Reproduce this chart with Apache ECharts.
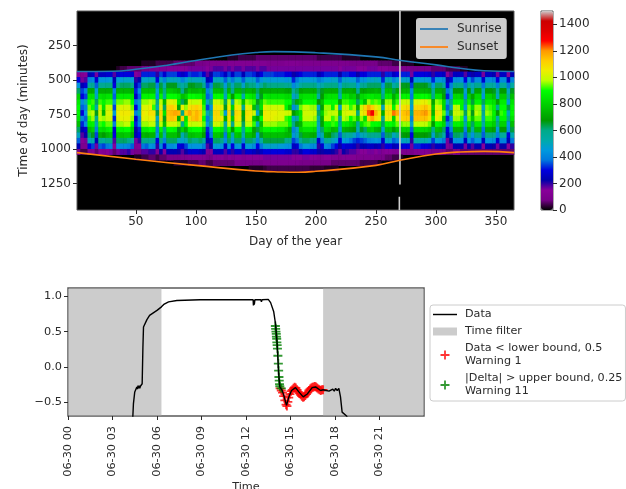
<!DOCTYPE html>
<html><head><meta charset="utf-8">
<style>html,body{margin:0;padding:0;background:#fff;overflow:hidden}#c{width:626px;height:489px}</style>
<script src="https://cdn.jsdelivr.net/npm/echarts@6/dist/echarts.min.js"></script>
</head><body><div id="c"></div>
<script>
// Heatmap: first day of each 3-day bin, first minute of each 40-min bin
const dayBins = [1,4,7,10,13,16,19,22,25,28,31,34,37,40,43,46,49,52,55,58,61,64,67,70,73,76,79,82,85,88,91,94,97,100,103,106,109,112,115,118,121,124,127,130,133,136,139,142,145,148,151,154,157,160,163,166,169,172,175,178,181,184,187,190,193,196,199,202,205,208,211,214,217,220,223,226,229,232,235,238,241,244,247,250,253,256,259,262,265,268,271,274,277,280,283,286,289,292,295,298,301,304,307,310,313,316,319,322,325,328,331,334,337,340,343,346,349,352,355,358,361,364];
const timeBins = [0,40,80,120,160,200,240,280,320,360,400,440,480,520,560,600,640,680,720,760,800,840,880,920,960,1000,1040,1080,1120,1160,1200,1240,1280,1320,1360,1400];
const firstTimeBin = 320;
// one line per day bin, from 320 min down to 1160 min, values in tens
const powerTens = [
[0,0,0,14,30,44,62,80,86,90,88,84,76,62,50,36,24,8,0,0,0],
[0,0,0,12,16,24,34,30,42,36,30,40,32,24,18,14,10,4,0,0,0],
[0,0,0,14,18,28,40,34,52,40,44,36,42,28,22,16,10,4,0,0,0],
[0,0,0,24,40,56,72,84,90,94,96,92,86,76,62,50,30,10,0,0,0],
[0,0,0,26,42,58,72,84,92,90,98,96,88,80,66,52,34,12,0,0,0],
[0,0,0,16,28,36,46,50,62,54,66,58,52,40,34,24,16,6,0,0,0],
[0,0,0,26,44,58,72,84,92,98,100,98,92,84,72,58,36,14,0,0,0],
[0,0,0,26,44,58,72,82,88,84,74,96,90,82,68,56,34,12,0,0,0],
[0,0,0,28,44,60,72,84,92,98,102,100,94,86,74,60,38,14,0,0,0],
[0,0,0,28,46,60,72,84,92,98,102,100,94,88,76,60,40,16,0,0,0],
[0,0,0,18,24,30,40,36,48,34,46,32,40,28,30,18,14,6,0,0,0],
[0,0,2,28,46,60,72,84,94,100,104,102,96,88,76,62,42,16,0,0,0],
[0,0,4,30,46,62,74,86,94,102,106,104,96,88,76,62,42,18,0,0,0],
[0,0,4,30,48,62,74,86,96,102,106,104,98,90,78,62,42,18,0,0,0],
[0,0,6,30,48,62,74,86,96,102,106,104,98,90,78,60,40,20,0,0,0],
[0,0,6,28,46,60,72,84,90,94,100,96,90,80,72,54,36,16,0,0,0],
[0,0,6,14,20,26,32,26,38,30,40,28,32,22,24,16,12,8,2,0,0],
[0,0,6,16,24,34,42,36,48,44,52,40,42,32,30,20,14,8,2,0,0],
[0,2,8,32,48,62,76,88,96,102,106,104,96,86,74,60,38,18,4,0,0],
[0,2,8,32,48,62,76,88,96,102,104,102,96,86,72,60,36,18,4,0,0],
[0,2,10,32,50,64,76,88,98,104,108,104,98,90,74,58,44,20,6,0,0],
[0,2,10,32,50,64,76,88,96,92,108,104,98,88,74,58,42,20,6,0,0],
[0,4,12,20,30,40,48,42,60,52,64,50,56,40,44,30,20,12,4,0,0],
[0,4,12,34,50,64,76,88,98,104,110,108,98,88,76,60,42,22,6,0,0],
[0,4,12,28,40,52,60,56,74,62,84,66,76,58,52,40,28,14,6,0,0],
[0,4,14,34,50,66,78,90,102,110,114,112,100,90,76,62,42,24,8,0,0],
[0,4,14,34,50,66,78,90,102,112,116,114,100,90,76,62,42,24,8,0,0],
[0,6,14,34,50,66,76,90,100,108,118,112,100,88,76,62,44,24,8,2,0],
[0,6,14,30,48,60,74,86,84,70,116,72,96,66,70,50,30,22,8,2,0],
[0,6,14,26,40,54,58,76,62,104,60,112,58,80,52,48,28,18,10,2,0],
[0,6,14,30,46,60,66,80,72,96,112,84,90,72,62,50,34,22,10,2,0],
[0,6,16,34,52,66,76,90,100,108,118,110,100,88,76,62,44,28,12,4,0],
[0,6,16,32,50,66,74,90,98,110,112,114,98,90,76,60,44,28,12,4,0],
[0,8,16,32,50,64,74,88,98,112,116,116,98,90,78,60,44,28,12,4,0],
[0,8,16,34,50,64,76,88,100,108,112,110,100,90,78,62,44,26,12,6,0],
[0,8,16,28,46,58,72,82,84,92,94,90,94,78,70,56,38,24,12,6,0],
[0,10,14,18,24,34,40,36,48,34,50,38,44,32,30,24,18,12,8,4,0],
[0,10,16,22,30,40,50,42,60,44,58,50,60,42,38,30,22,14,8,4,0],
[0,10,18,34,50,64,76,90,100,106,110,108,100,90,78,62,46,26,14,6,0],
[0,10,18,34,50,64,76,90,100,106,110,108,100,90,78,62,46,26,14,6,0],
[0,10,18,32,48,62,74,88,96,104,96,106,96,86,74,60,44,26,14,6,0],
[0,10,16,26,36,46,56,50,62,66,46,72,54,60,38,42,26,18,10,6,0],
[2,12,18,34,48,62,74,88,98,106,110,108,100,90,78,62,44,28,14,6,0],
[2,12,16,26,38,50,58,68,54,80,62,78,58,68,52,46,30,20,12,6,0],
[2,12,18,34,48,62,74,88,98,106,110,108,100,90,78,62,44,28,14,8,0],
[4,12,18,34,48,62,74,88,96,104,108,106,98,90,76,62,46,28,14,8,0],
[4,12,16,24,36,48,64,52,76,58,70,66,62,56,52,40,28,20,12,8,0],
[4,12,18,34,48,62,74,88,96,104,108,106,98,90,76,62,46,28,14,8,0],
[4,12,18,34,48,60,74,86,94,102,106,104,98,88,76,62,46,28,14,8,2],
[4,12,18,32,48,60,72,84,92,76,100,78,92,70,72,58,42,26,14,8,2],
[6,12,16,24,36,48,62,54,66,62,48,70,50,64,44,40,30,22,14,8,2],
[6,12,18,30,44,56,70,66,82,84,72,90,76,82,66,54,38,26,14,8,2],
[6,12,18,34,48,62,72,86,94,102,106,104,96,88,76,64,48,30,16,10,3],
[6,10,16,34,46,60,72,84,92,100,104,104,96,88,76,64,48,30,16,10,4],
[6,10,16,34,46,60,72,84,92,100,104,104,96,88,76,64,48,30,16,10,4],
[6,10,16,32,46,60,72,84,92,100,104,102,96,88,76,64,48,30,16,10,4],
[6,10,16,32,46,60,72,84,92,100,102,102,94,86,76,64,46,30,16,10,4],
[6,10,16,32,46,60,72,84,92,100,102,102,94,86,76,64,46,30,16,10,4],
[6,12,16,30,44,58,70,82,90,88,100,92,94,80,74,60,44,28,16,10,4],
[6,12,16,30,46,58,70,82,90,76,100,90,90,72,74,60,44,28,16,10,4],
[6,12,16,22,32,42,56,48,62,42,68,48,60,40,44,34,26,20,14,10,4],
[6,12,16,26,38,48,62,54,72,52,76,56,66,48,50,38,28,20,14,10,4],
[6,10,16,30,46,56,70,82,78,94,84,86,74,80,64,58,38,24,14,8,4],
[6,10,16,32,46,60,72,84,90,98,100,98,92,84,74,62,46,30,16,8,4],
[6,10,16,32,46,60,72,84,90,98,100,98,92,84,74,62,46,30,16,8,4],
[6,10,16,32,46,60,72,84,90,96,100,98,92,84,72,60,42,28,14,8,3],
[6,10,16,32,46,60,72,84,90,96,100,96,92,82,72,60,42,28,14,8,3],
[4,10,16,24,38,50,62,54,68,48,62,54,50,46,44,28,20,22,12,8,3],
[4,10,16,28,42,54,66,68,76,70,80,72,70,62,52,40,28,22,12,8,3],
[4,10,16,32,46,60,72,82,90,96,96,98,88,82,70,58,42,24,14,8,2],
[4,10,16,32,46,60,72,84,90,96,98,98,88,80,68,56,40,24,14,8,2],
[4,10,16,32,48,60,72,84,90,88,98,92,92,74,62,50,34,22,12,6,2],
[4,10,16,32,48,60,72,84,90,98,100,96,90,76,60,46,30,20,12,6,2],
[4,10,14,22,36,46,58,52,70,48,78,56,58,46,36,30,22,16,10,6,0],
[2,10,16,32,48,60,72,84,92,98,100,98,88,74,58,46,30,22,12,6,0],
[2,10,16,32,48,60,72,84,92,98,102,96,86,72,54,44,28,20,12,6,0],
[2,8,16,30,46,58,72,78,90,92,102,90,82,70,56,38,28,18,12,6,0],
[2,8,16,30,46,58,70,80,88,96,100,94,78,68,50,34,26,18,12,6,0],
[2,8,14,22,36,46,58,66,62,72,60,80,56,52,40,32,20,16,10,6,0],
[0,8,14,30,44,58,70,82,88,100,104,96,84,66,50,34,24,14,10,4,0],
[0,8,14,30,44,58,70,84,76,110,108,84,92,62,52,36,24,14,10,4,0],
[0,8,16,32,48,62,72,86,96,118,124,112,94,78,60,40,26,16,10,4,0],
[0,8,16,32,48,62,72,86,92,112,130,118,90,80,58,42,26,16,10,4,0],
[0,8,16,32,50,62,74,84,94,104,116,108,90,74,58,44,24,14,8,4,0],
[0,6,14,32,48,62,72,84,92,100,106,104,88,72,60,42,26,16,8,2,0],
[0,6,14,20,32,44,52,60,66,50,72,58,62,48,36,28,20,12,8,0,0],
[0,6,14,32,50,64,76,86,96,104,108,104,90,76,62,48,30,14,6,0,0],
[0,6,12,32,50,64,76,86,96,104,108,104,90,76,62,48,30,14,6,0,0],
[0,4,12,26,40,54,64,72,78,88,122,80,86,68,50,36,24,12,4,0,0],
[0,4,12,30,46,60,70,82,92,102,116,104,94,76,58,40,26,12,4,0,0],
[0,2,10,32,48,66,72,86,98,106,112,110,94,78,66,48,28,10,2,0,0],
[0,2,10,32,48,66,74,88,100,108,114,112,96,80,68,50,30,10,0,0,0],
[0,2,10,32,48,66,74,88,100,110,116,112,96,80,68,50,30,10,0,0,0],
[0,2,8,16,24,34,42,38,52,46,58,40,48,36,30,20,16,8,0,0,0],
[0,0,8,30,46,66,74,88,102,110,116,114,98,82,68,52,32,12,0,0,0],
[0,0,8,30,46,66,74,88,102,110,116,114,98,82,68,52,32,12,0,0,0],
[0,0,8,30,46,66,74,90,104,112,118,114,98,82,68,52,30,12,0,0,0],
[0,0,8,30,46,66,74,90,104,114,120,114,98,82,68,52,30,12,0,0,0],
[0,0,8,28,44,62,72,86,98,108,112,108,94,78,66,48,28,10,0,0,0],
[0,0,6,20,32,46,56,60,70,78,74,84,68,60,48,34,20,8,0,0,0],
[0,0,6,28,44,62,72,84,96,102,108,104,90,76,64,46,26,8,0,0,0],
[0,0,6,28,44,62,72,84,94,100,104,100,88,74,62,44,26,8,0,0,0],
[0,0,6,26,42,56,66,70,82,82,94,78,82,62,54,38,24,8,0,0,0],
[0,0,4,14,22,30,38,32,46,36,46,32,40,30,26,16,12,6,0,0,0],
[0,0,4,18,30,40,48,44,60,50,64,44,54,40,34,22,16,6,0,0,0],
[0,0,4,26,42,58,68,82,90,98,100,96,88,74,62,44,24,8,0,0,0],
[0,0,4,26,42,58,68,82,90,98,100,96,88,74,62,44,24,8,0,0,0],
[0,0,2,26,44,58,68,78,88,88,96,92,84,72,60,44,24,6,0,0,0],
[0,0,2,18,30,38,48,42,60,46,62,44,54,40,36,26,16,6,0,0,0],
[0,0,0,26,44,58,68,80,88,94,96,94,84,72,60,44,24,6,0,0,0],
[0,0,0,22,34,50,54,70,64,82,66,78,62,56,44,36,18,6,0,0,0],
[0,0,0,26,42,58,70,82,88,96,98,94,86,74,60,44,24,6,0,0,0],
[0,0,0,26,42,58,70,82,88,96,96,94,86,74,60,44,24,6,0,0,0],
[0,0,0,16,28,38,50,44,62,48,58,50,54,38,36,26,14,6,0,0,0],
[0,0,0,26,42,56,68,80,86,94,96,92,84,72,60,44,24,6,0,0,0],
[0,0,0,26,42,56,68,80,86,92,94,92,84,72,60,44,24,6,0,0,0],
[0,0,0,24,40,54,66,76,84,88,88,86,80,70,58,42,22,6,0,0,0],
[0,0,0,16,30,40,56,50,70,58,68,54,60,46,40,28,16,6,0,0,0],
[0,0,0,26,42,56,68,78,86,90,92,88,80,68,56,40,22,6,0,0,0],
[0,0,0,26,42,56,68,78,86,90,90,88,80,68,56,40,22,6,0,0,0],
[0,0,0,14,26,38,50,58,46,64,50,60,44,42,30,24,14,6,0,0,0],
[0,0,0,24,40,54,66,76,84,88,88,84,76,64,52,38,20,6,0,0,0]
];
const sunriseDays = [1,31,50,75,100,130,150,165,200,250,271,300,320,340,365];
const sunriseMins = [438,436,422,394,358,318,300,294,302,332,358,390,414,432,438];
const sunsetDays = [1,50,100,150,165,185,200,250,271,300,320,340,365];
const sunsetMins = [1025,1073,1117,1158,1163,1167,1160,1117,1078,1035,1020,1016,1025];
const glitchLine = [[270,0],[270,1255],[null,null],[269.5,1345],[269.5,1440]];
const dayTicks = [50,100,150,200,250,300,350];
const minuteTicks = [250,500,750,1000,1250];
const powerTicks = [0,200,400,600,800,1000,1200,1400];
const spectral = ['#000000','#770088','#880099','#0000aa','#0000dd','#0077dd','#0099dd','#00aaaa','#00aa88','#009900','#00bb00','#00dd00','#00ff00','#bbff00','#eeee00','#ffcc00','#ff9900','#ff0000','#dd0000','#cc0000','#cccccc'];

// Lower panel
const hourTicks = [0,3,6,9,12,15,18,21];
const valueTicks = [-0.5,0,0.5,1];
const filterBands = [[0.04,6.3],[17.2,23.96]];
const filterSpan = [-0.68,1.106];
const dataLine = [[4.33,-0.8],[4.37,-0.7],[4.41,-0.52],[4.5,-0.35],[4.64,-0.28],[4.68,-0.31],[4.72,-0.26],[4.76,-0.3],[4.8,-0.26],[4.84,-0.3],[4.88,-0.27],[5.0,-0.235],[5.05,0.28],[5.09,0.565],[5.32,0.67],[5.5,0.73],[6.0,0.8],[6.3,0.85],[6.49,0.89],[6.78,0.92],[7.34,0.94],[8.9,0.95],[12.48,0.95],[12.5,0.87],[12.53,0.95],[12.56,0.88],[12.6,0.95],[13.0,0.95],[13.04,0.92],[13.08,0.95],[13.5,0.955],[13.58,0.93],[13.66,0.91],[13.7,0.93],[13.76,0.89],[13.87,0.78],[13.99,0.61],[14.1,0.33],[14.2,-0.09],[14.28,-0.28],[14.44,-0.33],[14.55,-0.4],[14.73,-0.54],[14.89,-0.42],[15.07,-0.33],[15.34,-0.29],[15.56,-0.35],[15.86,-0.42],[16.13,-0.38],[16.46,-0.29],[16.69,-0.28],[17.03,-0.33],[17.2,-0.32],[17.4,-0.33],[17.47,-0.31],[17.6,-0.34],[17.7,-0.33],[17.85,-0.31],[17.95,-0.34],[18.04,-0.3],[18.15,-0.33],[18.26,-0.3],[18.37,-0.42],[18.48,-0.635],[18.6,-0.66],[18.78,-0.69],[19.0,-0.8]];
const lowBoundHits = [[14.3,-0.3],[14.38,-0.33],[14.46,-0.36],[14.54,-0.41],[14.62,-0.47],[14.7,-0.53],[14.76,-0.55],[14.82,-0.49],[14.88,-0.43],[14.96,-0.38],[15.04,-0.34],[15.12,-0.32],[15.2,-0.3],[15.28,-0.285],[15.36,-0.295],[15.44,-0.32],[15.52,-0.35],[15.6,-0.37],[15.68,-0.39],[15.76,-0.41],[15.84,-0.425],[15.92,-0.42],[16.0,-0.4],[16.08,-0.38],[16.16,-0.36],[16.24,-0.33],[16.32,-0.31],[16.4,-0.295],[16.48,-0.285],[16.56,-0.28],[16.64,-0.275],[16.72,-0.28],[16.8,-0.295],[16.88,-0.31],[16.96,-0.32],[17.04,-0.33],[17.12,-0.32],[17.2,-0.32]];
const deltaHits = [[13.98,0.58],[14.0,0.54],[14.02,0.5],[14.04,0.47],[14.05,0.43],[14.07,0.4],[14.08,0.35],[14.1,0.31],[14.12,0.26],[14.15,0.16],[14.18,0.05],[14.2,-0.05],[14.22,-0.14],[14.24,-0.19],[14.26,-0.24],[14.28,-0.27],[14.38,-0.3]];

const plus = 'path://M4 0h2v4h4v2h-4v4h-2v-4h-4v-2h4z';
const dash = 'path://M0 0H28V1.7H0Z';
const swatch = 'path://M0 0H24V8H0Z';
const heat = [];
powerTens.forEach((col, c) => col.forEach((v, r) => {
  if (v > 0) heat.push([c, r + timeBins.indexOf(firstTimeBin), v * 10]);
}));
const ink = '#2b2b2b', frame = '#5a5a5a';
const zip = (a, b) => a.map((x, i) => [x, b[i]]);
const base = {axisLine:{show:false,onZero:false}, splitLine:{show:false}, axisTick:{length:4,lineStyle:{color:ink}}};
const font = 'DejaVu Sans';
const plain = v => String(v);

const option = {
  animation:false, backgroundColor:'#fff',
  textStyle:{fontFamily:font,color:ink},
  grid:[
    {outerBoundsMode:'none',containLabel:false,left:77,top:11,width:437,height:199,show:true,backgroundColor:'#000',borderColor:frame,borderWidth:1},
    {outerBoundsMode:'none',containLabel:false,left:68,top:288,width:356,height:128,show:true,backgroundColor:'#fff',borderColor:frame,borderWidth:1.5},
    {outerBoundsMode:'none',containLabel:false,left:541,top:11,width:12,height:199,show:true,backgroundColor:'transparent',borderColor:frame,borderWidth:1}
  ],
  xAxis:[
    {type:'category',gridIndex:0,data:dayBins,show:false},
    {...base,type:'value',gridIndex:0,position:'bottom',min:1,max:365,name:'Day of the year',nameLocation:'middle',nameGap:26,nameTextStyle:{fontSize:12,color:ink},
      axisTick:{...base.axisTick,customValues:dayTicks},axisLabel:{fontSize:12,color:ink,margin:6,customValues:dayTicks,formatter:plain}},
    {...base,type:'value',gridIndex:1,position:'bottom',min:0,max:24,name:'Time',nameLocation:'middle',nameGap:66,nameTextStyle:{fontSize:11.3,color:ink},
      axisTick:{...base.axisTick,customValues:hourTicks},
      axisLabel:{fontSize:11.3,color:ink,rotate:90,margin:10,customValues:hourTicks,formatter:h=>'06-30 '+String(h).padStart(2,'0')}},
    {type:'value',gridIndex:2,show:false,min:0,max:1}
  ],
  yAxis:[
    {type:'category',gridIndex:0,data:timeBins,inverse:true,show:false},
    {...base,type:'value',gridIndex:0,position:'left',inverse:true,min:0,max:1440,name:'Time of day (minutes)',nameLocation:'middle',nameGap:46,nameTextStyle:{fontSize:12,color:ink},
      axisTick:{...base.axisTick,customValues:minuteTicks},axisLabel:{fontSize:12,color:ink,margin:6,customValues:minuteTicks,formatter:plain}},
    {...base,type:'value',gridIndex:1,position:'left',min:-0.69,max:1.116,
      axisTick:{...base.axisTick,customValues:valueTicks},
      axisLabel:{fontSize:11.3,color:ink,margin:6,customValues:valueTicks,formatter:v=>(v<0?'\u2212':'')+Math.abs(v).toFixed(1)}},
    {...base,type:'value',gridIndex:2,position:'right',min:0,max:1500,
      axisTick:{...base.axisTick,customValues:powerTicks},axisLabel:{fontSize:12,color:ink,margin:6,customValues:powerTicks,formatter:plain}}
  ],
  visualMap:{type:'continuous',seriesIndex:0,min:0,max:1500,left:541,top:11,itemWidth:12,itemHeight:199,padding:0,calculable:false,
    text:null,showLabel:false,inRange:{color:spectral},textStyle:{fontSize:0,color:'transparent'}},
  legend:[
    {data:[{name:'Sunrise',icon:dash},{name:'Sunset',icon:dash}],orient:'vertical',left:416,top:18,padding:[5,5,6,4],itemGap:6,itemWidth:28,itemHeight:10,
      backgroundColor:'rgba(255,255,255,0.8)',borderRadius:3,textStyle:{fontSize:12,color:ink,padding:[0,0,0,4],fontFamily:font}},
    {data:[{name:'Data',icon:dash},{name:'Time filter',icon:swatch},{name:'Data < lower bound, 0.5\nWarning 1',icon:plus},{name:'|Delta| > upper bound, 0.25\nWarning 11',icon:plus}],
      orient:'vertical',left:430,top:305,padding:[3,3,3,3],itemGap:4,itemWidth:24,itemHeight:9,
      backgroundColor:'#fff',borderColor:'#ccc',borderWidth:1,borderRadius:3,
      textStyle:{fontSize:11.2,lineHeight:13,color:ink,padding:[0,0,0,3],fontFamily:font}}
  ],
  series:[
    {type:'heatmap',xAxisIndex:0,yAxisIndex:0,data:heat,progressive:0,silent:true,z:1},
    {type:'line',name:'Sunrise',xAxisIndex:1,yAxisIndex:1,data:zip(sunriseDays,sunriseMins),smooth:0.5,symbol:'none',lineStyle:{color:'#1f77b4',width:1.6},itemStyle:{color:'#1f77b4'},z:3},
    {type:'line',name:'Sunset',xAxisIndex:1,yAxisIndex:1,data:zip(sunsetDays,sunsetMins),smooth:0.5,symbol:'none',lineStyle:{color:'#ff7f0e',width:1.6},itemStyle:{color:'#ff7f0e'},z:3},
    {type:'line',name:'Missing',xAxisIndex:1,yAxisIndex:1,data:glitchLine,connectNulls:false,symbol:'none',lineStyle:{color:'#cfcfcf',width:1.6},z:2},
    {type:'line',name:'Time filter',xAxisIndex:2,yAxisIndex:2,data:[],symbol:'none',itemStyle:{color:'#cccccc'},lineStyle:{color:'#cccccc'},z:1,
      markArea:{silent:true,itemStyle:{color:'#cccccc'},data:filterBands.map(b=>[{xAxis:b[0],yAxis:filterSpan[0]},{xAxis:b[1],yAxis:filterSpan[1]}])}},
    {type:'scatter',name:'Data < lower bound, 0.5\nWarning 1',xAxisIndex:2,yAxisIndex:2,data:lowBoundHits,symbol:plus,symbolSize:9,itemStyle:{color:'#ff0000'},z:3},
    {type:'scatter',name:'|Delta| > upper bound, 0.25\nWarning 11',xAxisIndex:2,yAxisIndex:2,data:deltaHits,symbol:plus,symbolSize:9,itemStyle:{color:'#008000'},z:3},
    {type:'line',name:'Data',xAxisIndex:2,yAxisIndex:2,data:dataLine,symbol:'none',lineStyle:{color:'#000',width:1.4},itemStyle:{color:'#000'},z:4}
  ]
};
echarts.init(document.getElementById('c'),null,{renderer:'canvas'}).setOption(option);
</script></body></html>
